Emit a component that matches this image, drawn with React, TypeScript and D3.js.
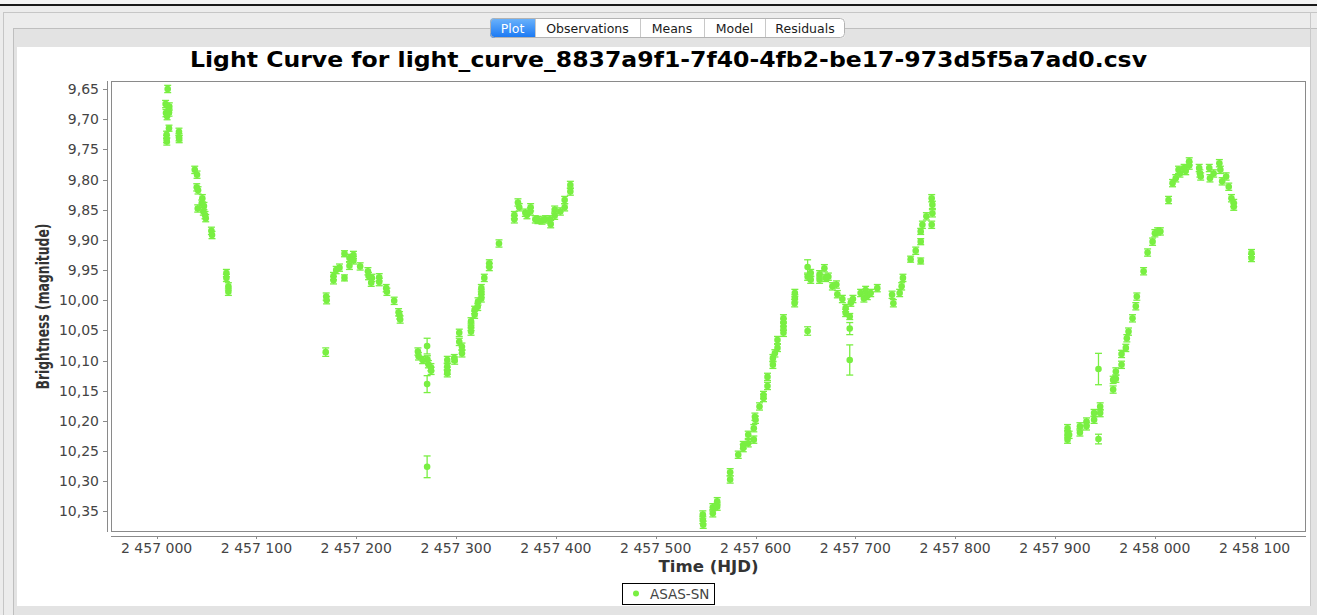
import React from "react";
import * as d3 from "d3";

type Obs = [number, number, number];

const title = "Light Curve for light_curve_8837a9f1-7f40-4fb2-be17-973d5f5a7ad0.csv";
const xLabel = "Time (HJD)";
const yLabel = "Brightness (magnitude)";
const seriesName = "ASAS-SN";
const tabs = ["Plot", "Observations", "Means", "Model", "Residuals"];

const xTicks = [2457000, 2457100, 2457200, 2457300, 2457400, 2457500, 2457600, 2457700, 2457800, 2457900, 2458000, 2458100];
const yTicks = [9.65, 9.7, 9.75, 9.8, 9.85, 9.9, 9.95, 10.0, 10.05, 10.1, 10.15, 10.2, 10.25, 10.3, 10.35];

const season2014: Obs[] = [
  [2457011.1, 9.650, 0.006], [2457009.0, 9.675, 0.006], [2457012.7, 9.679, 0.006], [2457011.7, 9.686, 0.006],
  [2457009.4, 9.690, 0.006], [2457012.4, 9.689, 0.006], [2457010.5, 9.695, 0.006], [2457012.4, 9.715, 0.005],
  [2457010.0, 9.726, 0.006], [2457010.0, 9.733, 0.006], [2457010.2, 9.737, 0.006], [2457022.4, 9.721, 0.006],
  [2457022.4, 9.730, 0.006], [2457022.6, 9.733, 0.006], [2457038.2, 9.784, 0.006], [2457040.5, 9.792, 0.006],
  [2457040.2, 9.813, 0.006], [2457041.5, 9.818, 0.006], [2457045.8, 9.831, 0.006], [2457045.2, 9.840, 0.006],
  [2457047.4, 9.844, 0.006], [2457041.2, 9.848, 0.006], [2457046.8, 9.853, 0.006], [2457048.5, 9.859, 0.006],
  [2457049.2, 9.864, 0.006], [2457054.9, 9.885, 0.006], [2457055.5, 9.892, 0.006], [2457069.9, 9.955, 0.006],
  [2457069.9, 9.963, 0.006], [2457071.9, 9.977, 0.006], [2457071.9, 9.986, 0.006],
];

const season2015: Obs[] = [
  [2457169.9, 9.994, 0.006], [2457170.3, 10.000, 0.006], [2457169.4, 10.086, 0.007], [2457177.2, 9.960, 0.006],
  [2457177.2, 9.967, 0.006], [2457179.9, 9.950, 0.006], [2457183.2, 9.946, 0.006], [2457188.2, 9.923, 0.005],
  [2457188.2, 9.963, 0.005], [2457193.2, 9.930, 0.006], [2457193.2, 9.943, 0.006], [2457197.2, 9.925, 0.006],
  [2457197.2, 9.934, 0.006], [2457203.9, 9.944, 0.006], [2457211.7, 9.952, 0.006], [2457212.3, 9.960, 0.006],
  [2457215.6, 9.963, 0.006], [2457215.0, 9.971, 0.006], [2457223.0, 9.962, 0.006], [2457223.0, 9.970, 0.006],
  [2457230.0, 9.980, 0.006], [2457230.7, 9.986, 0.006], [2457238.0, 10.001, 0.006], [2457242.4, 10.020, 0.006],
  [2457243.4, 10.025, 0.006], [2457244.0, 10.032, 0.006], [2457261.8, 10.085, 0.006], [2457262.4, 10.093, 0.006],
  [2457266.5, 10.099, 0.006], [2457271.0, 10.076, 0.013], [2457271.3, 10.098, 0.006], [2457272.3, 10.106, 0.006],
  [2457274.8, 10.111, 0.006], [2457275.0, 10.117, 0.006], [2457271.0, 10.139, 0.014], [2457271.0, 10.276, 0.018],
  [2457291.2, 10.099, 0.006], [2457291.2, 10.110, 0.006], [2457291.2, 10.117, 0.006], [2457291.2, 10.121, 0.006],
  [2457298.2, 10.096, 0.006], [2457298.6, 10.100, 0.006], [2457303.2, 10.054, 0.006], [2457303.2, 10.069, 0.006],
  [2457305.9, 10.077, 0.006], [2457305.9, 10.088, 0.006], [2457315.0, 10.035, 0.006], [2457315.0, 10.044, 0.006],
  [2457315.0, 10.052, 0.006], [2457318.6, 10.016, 0.006], [2457318.6, 10.024, 0.006], [2457322.0, 10.002, 0.006],
  [2457321.7, 10.011, 0.006], [2457325.3, 9.980, 0.006], [2457325.3, 9.989, 0.006], [2457325.3, 9.997, 0.006],
  [2457328.3, 9.963, 0.006], [2457333.3, 9.939, 0.006], [2457333.3, 9.945, 0.006], [2457343.0, 9.906, 0.006],
  [2457358.4, 9.859, 0.006], [2457358.4, 9.866, 0.006], [2457362.0, 9.838, 0.006], [2457363.3, 9.846, 0.006],
  [2457369.4, 9.855, 0.006], [2457371.0, 9.859, 0.006], [2457374.7, 9.846, 0.006], [2457374.5, 9.853, 0.006],
  [2457379.4, 9.866, 0.006], [2457382.0, 9.867, 0.006], [2457386.1, 9.868, 0.006], [2457389.4, 9.866, 0.006],
  [2457394.8, 9.874, 0.006], [2457394.0, 9.866, 0.006], [2457398.8, 9.860, 0.006], [2457398.8, 9.850, 0.006],
  [2457404.5, 9.853, 0.006], [2457408.8, 9.834, 0.006], [2457408.8, 9.846, 0.006], [2457414.5, 9.809, 0.006],
  [2457414.5, 9.820, 0.006],
];

const season2016: Obs[] = [
  [2457547.2, 10.355, 0.006], [2457547.2, 10.364, 0.006], [2457547.6, 10.372, 0.006], [2457557.2, 10.343, 0.006],
  [2457557.2, 10.353, 0.006], [2457561.6, 10.333, 0.006], [2457561.6, 10.342, 0.006], [2457574.6, 10.285, 0.006],
  [2457574.6, 10.297, 0.006], [2457582.7, 10.256, 0.006], [2457587.7, 10.240, 0.006], [2457587.7, 10.245, 0.006],
  [2457592.7, 10.223, 0.006], [2457592.7, 10.237, 0.006], [2457598.3, 10.212, 0.006], [2457598.3, 10.231, 0.006],
  [2457599.4, 10.193, 0.006], [2457600.0, 10.198, 0.006], [2457604.0, 10.176, 0.006], [2457608.0, 10.157, 0.006],
  [2457608.0, 10.162, 0.006], [2457612.0, 10.127, 0.006], [2457612.0, 10.142, 0.006], [2457617.4, 10.096, 0.006],
  [2457617.4, 10.107, 0.006], [2457619.4, 10.088, 0.006], [2457622.0, 10.066, 0.006], [2457622.0, 10.079, 0.006],
  [2457628.0, 10.030, 0.006], [2457628.0, 10.037, 0.006], [2457628.0, 10.044, 0.006], [2457628.0, 10.054, 0.006],
  [2457639.4, 9.988, 0.006], [2457639.4, 9.997, 0.006], [2457639.2, 10.005, 0.006], [2457652.2, 9.945, 0.012],
  [2457652.2, 9.961, 0.006], [2457655.3, 9.955, 0.006], [2457655.3, 9.966, 0.006], [2457652.2, 10.051, 0.007],
  [2457664.2, 9.957, 0.006], [2457664.2, 9.966, 0.006], [2457669.0, 9.947, 0.006], [2457670.2, 9.963, 0.006],
  [2457673.0, 9.961, 0.006], [2457677.0, 9.977, 0.006], [2457681.0, 9.974, 0.006], [2457682.0, 9.990, 0.006],
  [2457687.0, 9.998, 0.006], [2457690.3, 10.013, 0.006], [2457690.3, 10.021, 0.006], [2457694.4, 10.027, 0.005],
  [2457694.4, 10.047, 0.010], [2457694.4, 10.099, 0.025], [2457695.5, 10.004, 0.006], [2457697.6, 9.998, 0.006],
  [2457705.3, 9.988, 0.006], [2457708.6, 9.997, 0.006], [2457710.3, 9.983, 0.006], [2457712.0, 9.993, 0.006],
  [2457715.4, 9.988, 0.006], [2457722.0, 9.980, 0.006], [2457736.8, 9.991, 0.006], [2457738.1, 10.005, 0.006],
  [2457744.4, 9.988, 0.006], [2457746.4, 9.977, 0.006], [2457747.7, 9.963, 0.006], [2457755.4, 9.932, 0.005],
  [2457760.5, 9.918, 0.006], [2457765.5, 9.935, 0.005], [2457765.5, 9.903, 0.005], [2457765.5, 9.886, 0.005],
  [2457767.2, 9.875, 0.006], [2457771.2, 9.861, 0.006], [2457776.5, 9.831, 0.006], [2457777.2, 9.842, 0.006],
  [2457777.2, 9.856, 0.006], [2457776.5, 9.875, 0.006],
];

const season2017: Obs[] = [
  [2457912.6, 10.212, 0.006], [2457912.6, 10.222, 0.006], [2457912.6, 10.231, 0.006], [2457914.2, 10.223, 0.006],
  [2457925.0, 10.209, 0.006], [2457925.0, 10.219, 0.006], [2457931.6, 10.201, 0.006], [2457931.6, 10.209, 0.006],
  [2457939.2, 10.187, 0.006], [2457939.2, 10.198, 0.006], [2457943.6, 10.114, 0.026], [2457943.6, 10.230, 0.008],
  [2457945.3, 10.176, 0.006], [2457945.3, 10.187, 0.006], [2457958.3, 10.132, 0.006], [2457958.3, 10.148, 0.006],
  [2457961.0, 10.118, 0.006], [2457961.0, 10.130, 0.006], [2457966.7, 10.107, 0.006], [2457966.7, 10.089, 0.006],
  [2457971.0, 10.079, 0.006], [2457972.0, 10.063, 0.006], [2457973.7, 10.052, 0.006], [2457977.7, 10.030, 0.006],
  [2457981.0, 10.010, 0.006], [2457982.0, 9.994, 0.006], [2457988.8, 9.952, 0.006], [2457992.8, 9.921, 0.006],
  [2457997.8, 9.903, 0.006], [2458000.1, 9.889, 0.006], [2458002.8, 9.886, 0.006], [2458005.6, 9.886, 0.006],
  [2458013.8, 9.834, 0.006], [2458017.8, 9.806, 0.006], [2458021.0, 9.798, 0.006], [2458023.8, 9.784, 0.006],
  [2458025.2, 9.790, 0.006], [2458029.4, 9.781, 0.006], [2458031.0, 9.786, 0.006], [2458034.5, 9.770, 0.006],
  [2458034.5, 9.777, 0.006], [2458044.5, 9.781, 0.006], [2458045.2, 9.790, 0.006], [2458046.0, 9.795, 0.006],
  [2458054.6, 9.781, 0.006], [2458055.3, 9.798, 0.006], [2458059.0, 9.790, 0.006], [2458064.7, 9.773, 0.006],
  [2458065.7, 9.784, 0.006], [2458067.5, 9.803, 0.006], [2458071.5, 9.795, 0.006], [2458074.1, 9.812, 0.006],
  [2458076.8, 9.831, 0.006], [2458079.1, 9.839, 0.006], [2458079.1, 9.845, 0.006], [2458096.9, 9.922, 0.006],
  [2458096.9, 9.930, 0.006],
];

const observations: Obs[] = [...season2014, ...season2015, ...season2016, ...season2017];

const GREEN = "#79ef42";
const AXIS = "#8a8a8a";
const TEXT = "#444444";
const FONT = "'DejaVu Sans', Verdana, sans-serif";

const plot = { left: 111, right: 1306, top: 81, bottom: 532 };

const x = d3.scaleLinear().domain([2456954.3, 2458151.5]).range([plot.left, plot.right]);
const y = d3.scaleLinear().domain([9.6368, 10.384]).range([plot.top, plot.bottom]);

const fmtX = (v: number) => d3.format(",.0f")(v).replace(/,/g, " ");
const fmtY = (v: number) => d3.format(".2f")(v).replace(".", ",");

const tabWidths = [45, 105, 64, 61, 80];

export default function App() {
  const tabX0 = 490;
  let acc = tabX0;
  const tabPos = tabWidths.map((w) => {
    const p = acc;
    acc += w;
    return p;
  });
  const tabEnd = acc;
  return (
    <svg
      width={1317}
      height={615}
      style={{ position: "absolute", left: 0, top: 0, display: "block" }}
      xmlns="http://www.w3.org/2000/svg"
    >
      <defs>
        <linearGradient id="selTab" x1="0" y1="0" x2="0" y2="1">
          <stop offset="0" stopColor="#6db4fb" />
          <stop offset="1" stopColor="#1877f3" />
        </linearGradient>
        <clipPath id="tabClip">
          <rect x={tabX0} y={18} width={tabEnd - tabX0} height={20} rx={4} />
        </clipPath>
        <clipPath id="plotClip">
          <rect x={plot.left} y={plot.top} width={plot.right - plot.left} height={plot.bottom - plot.top} />
        </clipPath>
      </defs>

      {/* window chrome */}
      <rect x={0} y={0} width={1317} height={615} fill="#ececec" />
      <rect x={0} y={0} width={1317} height={4} fill="#f4f4f4" />
      <line x1={0} x2={1317} y1={5} y2={5} stroke="#1a1a1a" strokeWidth={2} />
      <rect x={3.5} y={12.5} width={1320} height={610} fill="#ececec" stroke="#c6c6c6" />
      <rect x={13.5} y={28.5} width={1310} height={590} fill="#e3e3e3" stroke="#bfbfbf" />
      <rect x={17} y={47} width={1293} height={559} fill="#ffffff" />
      <line x1={1310.5} x2={1310.5} y1={12} y2={606} stroke="#c9c9c9" />

      {/* tabs */}
      <g clipPath="url(#tabClip)">
        <rect x={tabX0} y={18} width={tabEnd - tabX0} height={20} fill="#ffffff" />
        <rect x={tabPos[0]} y={18} width={tabWidths[0]} height={20} fill="url(#selTab)" />
      </g>
      <rect x={tabX0 + 0.5} y={18.5} width={tabEnd - tabX0 - 1} height={19} rx={4} fill="none" stroke="#b3b3b3" />
      {tabPos.slice(1).map((p, i) => (
        <line key={"sep" + i} x1={p + 0.5} x2={p + 0.5} y1={19} y2={37} stroke="#c8c8c8" />
      ))}
      {tabs.map((t, i) => (
        <text
          key={t}
          x={tabPos[i] + tabWidths[i] / 2}
          y={32.5}
          textAnchor="middle"
          fontFamily={FONT}
          fontSize={12.5}
          fill={i === 0 ? "#ffffff" : "#1a1a1a"}
        >
          {t}
        </text>
      ))}

      {/* title */}
      <text
        x={668.5}
        y={67}
        textAnchor="middle"
        fontFamily={FONT}
        fontWeight="bold"
        fontSize={21}
        fill="#000"
        textLength={957}
        lengthAdjust="spacingAndGlyphs"
      >
        {title}
      </text>

      {/* plot frame */}
      <rect
        x={plot.left + 0.5}
        y={plot.top + 0.5}
        width={plot.right - plot.left - 1}
        height={plot.bottom - plot.top - 1}
        fill="#ffffff"
        stroke={AXIS}
      />

      {/* y axis */}
      <line x1={107.5} x2={107.5} y1={plot.top} y2={plot.bottom} stroke={AXIS} />
      {yTicks.map((t) => (
        <g key={"y" + t}>
          <line x1={103} x2={107} y1={Math.round(y(t)) + 0.5} y2={Math.round(y(t)) + 0.5} stroke={AXIS} />
          <text x={99} y={y(t) + 5} textAnchor="end" fontFamily={FONT} fontSize={14} fill={TEXT}>
            {fmtY(t)}
          </text>
        </g>
      ))}
      <text
        transform={`translate(49, ${(plot.top + plot.bottom) / 2}) rotate(-90)`}
        textAnchor="middle"
        fontFamily="'DejaVu Sans Condensed', 'Liberation Sans Narrow', sans-serif"
        fontWeight="bold"
        fontSize={17}
        fill="#333"
        textLength={166}
        lengthAdjust="spacingAndGlyphs"
      >
        {yLabel}
      </text>

      {/* x axis */}
      <line x1={plot.left} x2={plot.right} y1={536.5} y2={536.5} stroke={AXIS} />
      {xTicks.map((t) => (
        <g key={"x" + t}>
          <line x1={Math.round(x(t)) + 0.5} x2={Math.round(x(t)) + 0.5} y1={536} y2={539} stroke={AXIS} />
          <text x={x(t)} y={553} textAnchor="middle" fontFamily={FONT} fontSize={14} fill={TEXT}>
            {fmtX(t)}
          </text>
        </g>
      ))}
      <text
        x={(plot.left + plot.right) / 2}
        y={572}
        textAnchor="middle"
        fontFamily={FONT}
        fontWeight="bold"
        fontSize={15}
        fill="#333"
        textLength={100}
        lengthAdjust="spacingAndGlyphs"
      >
        {xLabel}
      </text>

      {/* observations */}
      <g clipPath="url(#plotClip)">
        {observations.map(([t, m, e], i) => {
          const cx = x(t);
          const y1 = y(m - e);
          const y2 = y(m + e);
          return (
            <g key={"o" + i}>
              <line x1={cx} x2={cx} y1={y1} y2={y2} stroke={GREEN} strokeWidth={1.3} />
              <line x1={cx - 3.5} x2={cx + 3.5} y1={y1} y2={y1} stroke={GREEN} strokeWidth={1.3} />
              <line x1={cx - 3.5} x2={cx + 3.5} y1={y2} y2={y2} stroke={GREEN} strokeWidth={1.3} />
              <circle cx={cx} cy={y(m)} r={3.3} fill={GREEN} />
            </g>
          );
        })}
      </g>

      {/* legend */}
      <rect x={622.5} y={583.5} width={92} height={21} fill="#ffffff" stroke="#000" />
      <circle cx={636} cy={593.5} r={3} fill={GREEN} />
      <text x={650} y={599} fontFamily={FONT} fontSize={13.5} fill={TEXT}>
        {seriesName}
      </text>
    </svg>
  );
}
